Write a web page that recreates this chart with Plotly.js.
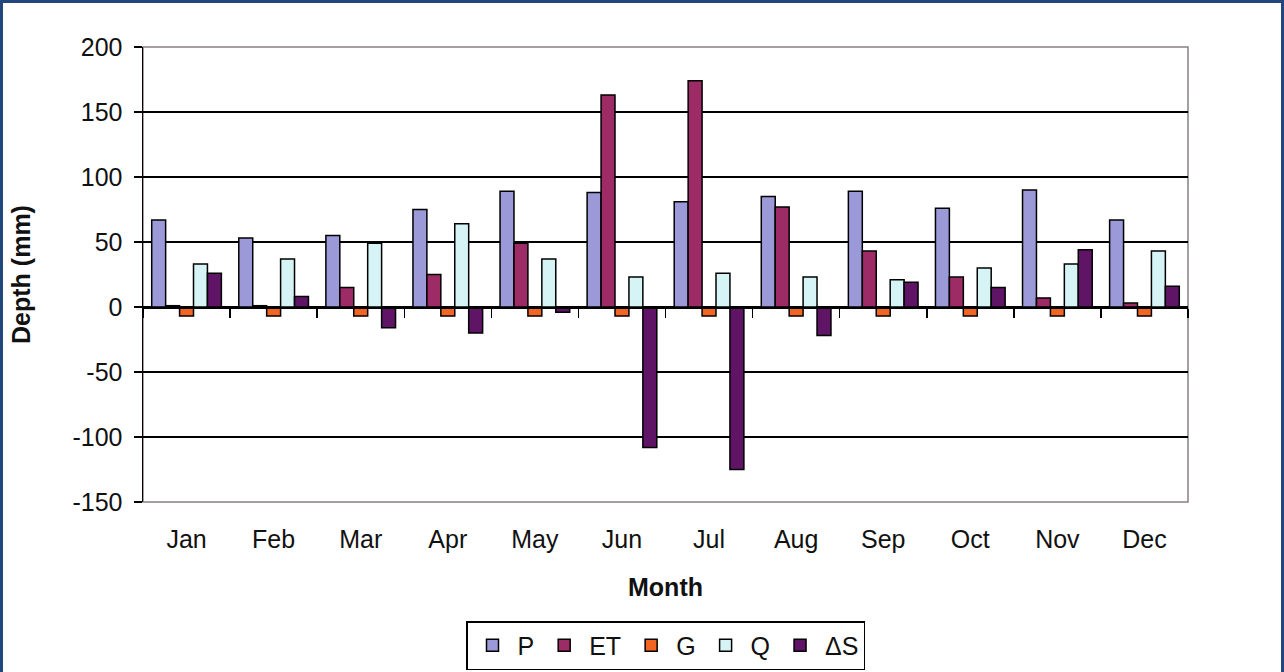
<!DOCTYPE html>
<html>
<head>
<meta charset="utf-8">
<script src="https://cdn.plot.ly/plotly-3.0.1.min.js"></script>
<style>
  html, body { margin: 0; padding: 0; background: #ffffff; }
  #wrap { position: relative; width: 1284px; height: 672px; overflow: hidden; }
  #chart { width: 1284px; height: 672px; }
  #frame { position: absolute; left: 0; top: 0; width: 1284px; height: 672px; box-sizing: border-box;
           border-left: 3px solid #24467f; border-top: 3px solid #24467f; border-right: 3px solid #24467f;
           pointer-events: none; }
</style>
</head>
<body>
<div id="wrap">
  <div id="chart"></div>
  <div id="frame"></div>
</div>
<script>
const months = ["Jan","Feb","Mar","Apr","May","Jun","Jul","Aug","Sep","Oct","Nov","Dec"];
const P  = [67, 53, 55, 75, 89, 88, 81, 85, 89, 76, 90, 67];
const ET = [1, 1, 15, 25, 49, 163, 174, 77, 43, 23, 7, 3];
const G  = [-7, -7, -7, -7, -7, -7, -7, -7, -7, -7, -7, -7];
const Q  = [33, 37, 49, 64, 37, 23, 26, 23, 21, 30, 33, 43];
const dS = [26, 8, -16, -20, -4, -108, -125, -22, 19, 15, 44, 16];
const yTicks = [-150, -100, -50, 0, 50, 100, 150, 200];

const seriesNames = ["P", "ET", "G", "Q", "\u0394S"];
const seriesData = [P, ET, G, Q, dS];
const seriesColors = ["#9b99d8", "#9c2b66", "#f26522", "#d6f4f6", "#601465"];

const traces = seriesData.map((vals, i) => ({
  type: "bar",
  name: seriesNames[i],
  x: months,
  y: vals,
  xaxis: "x",
  yaxis: "y",
  marker: { color: seriesColors[i], line: { color: "#000000", width: 1.5 } },
  hoverinfo: "x+y+name"
}));

// dummy trace for the label axis at the bottom
traces.push({
  type: "scatter", mode: "markers", x: months, y: months.map(() => null),
  xaxis: "x2", yaxis: "y", showlegend: false, hoverinfo: "skip"
});

const zeroPos = (0 - yTicks[0]) / (yTicks[yTicks.length - 1] - yTicks[0]);
const xRange = [-0.5, months.length - 0.5];

const layout = {
  width: 1284,
  height: 672,
  margin: { l: 143, r: 96, t: 47, b: 170, autoexpand: false },
  paper_bgcolor: "#ffffff",
  plot_bgcolor: "#ffffff",
  font: { family: "Liberation Sans, Arial, sans-serif", color: "#111111", size: 25 },
  barmode: "group",
  bargap: 0.2,
  bargroupgap: 0,
  showlegend: true,
  legend: {
    orientation: "h",
    x: 0.5, xanchor: "center",
    yref: "container",
    y: 1 - 621 / 672, yanchor: "top",
    bordercolor: "#000000", borderwidth: 1.5,
    bgcolor: "#ffffff",
    font: { size: 25, color: "#111111" },
    itemwidth: 40,
    tracegroupgap: 0,
    traceorder: "normal"
  },
  xaxis: {
    type: "category",
    categoryorder: "array",
    categoryarray: months,
    range: xRange,
    anchor: "free",
    position: zeroPos,
    showline: true, linecolor: "#000000", linewidth: 1.5,
    ticks: "outside", tickson: "boundaries", ticklen: 9, tickwidth: 1.5, tickcolor: "#000000",
    showticklabels: false,
    showgrid: false, zeroline: false,
    fixedrange: true
  },
  xaxis2: {
    type: "category",
    categoryorder: "array",
    categoryarray: months,
    range: xRange,
    overlaying: "x",
    anchor: "y",
    side: "bottom",
    showline: false,
    ticks: "",
    ticklabelstandoff: 20,
    tickfont: { size: 25, color: "#111111" },
    showgrid: false, zeroline: false,
    title: { text: "<b>Month</b>", font: { size: 25, color: "#111111" }, standoff: 26 }
  },
  yaxis: {
    range: [yTicks[0], yTicks[yTicks.length - 1]],
    tickvals: yTicks,
    ticktext: yTicks.map(String),
    showline: true, linecolor: "#000000", linewidth: 1.5,
    ticks: "outside", ticklen: 8, tickwidth: 1.5, tickcolor: "#000000",
    ticklabelstandoff: 6,
    tickfont: { size: 25, color: "#111111" },
    showgrid: true, gridcolor: "#000000", gridwidth: 1.3,
    zeroline: false,
    title: { text: "<b>Depth (mm)</b>", font: { size: 25, color: "#111111" }, standoff: 34 },
    fixedrange: true
  },
  shapes: [{
    type: "rect", xref: "paper", yref: "paper", x0: 0, x1: 1, y0: 0, y1: 1,
    line: { color: "#8a8080", width: 1.5 }, layer: "below"
  }]
};

Plotly.newPlot("chart", traces, layout, { displayModeBar: false, staticPlot: true });
</script>
</body>
</html>
